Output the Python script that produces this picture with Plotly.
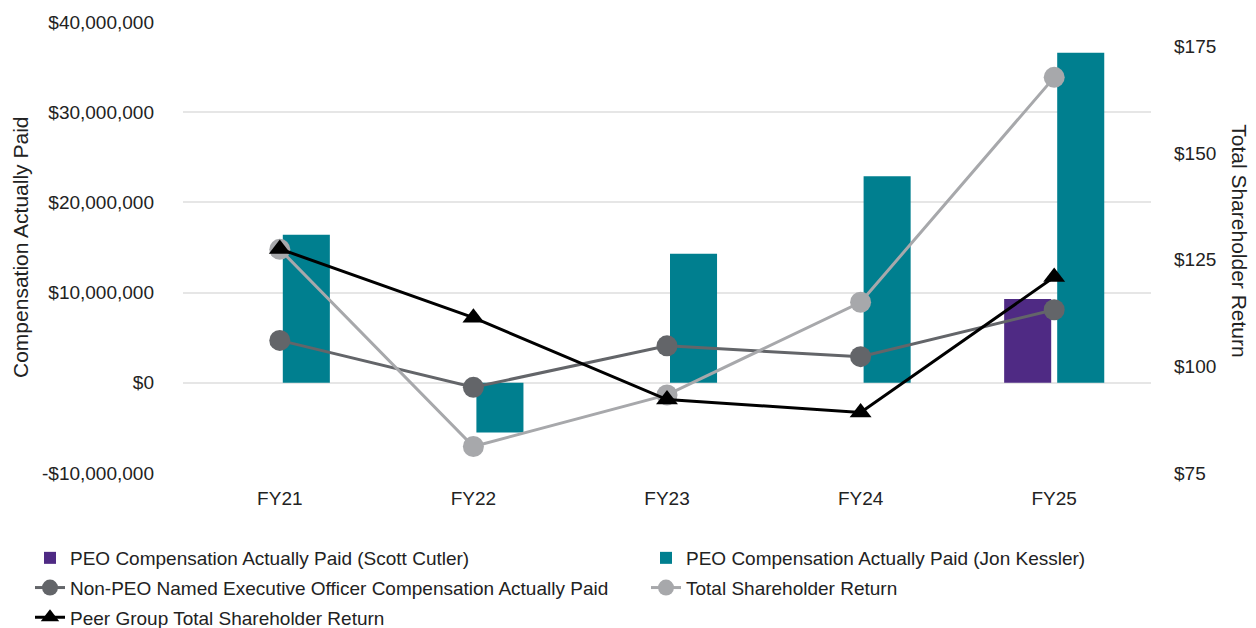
import plotly.graph_objects as go

years = ["FY21", "FY22", "FY23", "FY24", "FY25"]
cap_cutler = [None, None, None, None, 9.3e6]
cap_kessler = [16.4e6, -5.5e6, 14.3e6, 22.9e6, 36.6e6]
cap_non_peo = [4.7e6, -0.5e6, 4.1e6, 2.9e6, 8.1e6]
tsr = [127.4, 81.2, 93.3, 115.0, 167.7]
peer_tsr = [127.5, 111.4, 92.2, 89.2, 120.9]

left_tickvals = [-10e6, 0, 10e6, 20e6, 30e6, 40e6]
left_ticktext = ["-$10,000,000", "$0", "$10,000,000", "$20,000,000", "$30,000,000", "$40,000,000"]
right_tickvals = [75, 100, 125, 150, 175]
right_ticktext = ["$75", "$100", "$125", "$150", "$175"]

FONT = "Liberation Sans, Arial, sans-serif"
TXT = "#222222"
W, H = 1248, 620
ML, MR, MT, MB = 175, 105, 13.5, 155.3
PW = W - ML - MR

fig = go.Figure()
fig.add_trace(go.Bar(x=years, y=cap_cutler, name="PEO Compensation Actually Paid (Scott Cutler)",
                     marker=dict(color="#4f2a84", line=dict(width=0)), yaxis="y",
                     legend="legend", legendgroup="g1"))
fig.add_trace(go.Bar(x=years, y=cap_kessler, name="PEO Compensation Actually Paid (Jon Kessler)",
                     marker=dict(color="#007f8f", line=dict(width=0)), yaxis="y",
                     legend="legend2", legendgroup="g2"))
fig.add_trace(go.Scatter(x=years, y=cap_non_peo, name="Non-PEO Named Executive Officer Compensation Actually Paid",
                         mode="lines+markers", line=dict(color="#636569", width=3),
                         marker=dict(symbol="circle", size=21, color="#636569"), yaxis="y",
                         legend="legend", legendgroup="g3"))
fig.add_trace(go.Scatter(x=years, y=tsr, name="Total Shareholder Return",
                         mode="lines+markers", line=dict(color="#a7a8ab", width=3),
                         marker=dict(symbol="circle", size=21, color="#a7a8ab"), yaxis="y2",
                         legend="legend2", legendgroup="g4"))
fig.add_trace(go.Scatter(x=years, y=peer_tsr, name="Peer Group Total Shareholder Return",
                         mode="lines+markers", line=dict(color="#000000", width=3),
                         marker=dict(symbol="triangle-up", size=19, color="#000000"), yaxis="y2",
                         legend="legend", legendgroup="g5"))

legend_common = dict(orientation="v", xref="paper", yref="container",
                     xanchor="left", yanchor="top", traceorder="grouped", tracegroupgap=2,
                     font=dict(family=FONT, size=19, color=TXT), bgcolor="rgba(0,0,0,0)")

fig.update_layout(
    width=W, height=H,
    margin=dict(l=ML, r=MR, t=MT, b=MB, autoexpand=False),
    paper_bgcolor="white", plot_bgcolor="white",
    font=dict(family=FONT, size=19, color=TXT),
    barmode="group", bargap=0.452, bargroupgap=0.113,
    showlegend=True,
    legend=dict(x=(22 - ML) / PW, y=1 - 531 / H, **legend_common),
    legend2=dict(x=(638 - ML) / PW, y=1 - 531 / H, **legend_common),
    xaxis=dict(type="category", range=[-0.5, 4.5], showgrid=False, zeroline=False, showline=False,
               automargin=False, ticks="", ticklabelstandoff=12, tickfont=dict(size=19, color=TXT)),
    yaxis=dict(range=[-10e6, 40e6], tickvals=left_tickvals, ticktext=left_ticktext,
               showgrid=True, gridcolor="#e6e6e6", gridwidth=1.5, zeroline=False, showline=False,
               automargin=False, ticks="", ticklabelstandoff=28, tickfont=dict(size=19, color=TXT)),
    yaxis2=dict(range=[75, 180.67], tickvals=right_tickvals, ticktext=right_ticktext,
                overlaying="y", side="right", showgrid=False, zeroline=False, showline=False,
                automargin=False, ticks="", ticklabelstandoff=22, tickfont=dict(size=19, color=TXT)),
    annotations=[
        dict(text="Compensation Actually Paid", xref="paper", yref="paper", x=(12.5 - ML) / PW, y=0.5,
             textangle=-90, showarrow=False, font=dict(family=FONT, size=21, color=TXT),
             xanchor="center", yanchor="middle"),
        dict(text="Total Shareholder Return", xref="paper", yref="paper", x=1.092, y=0.516,
             textangle=90, showarrow=False, font=dict(family=FONT, size=21, color=TXT),
             xanchor="center", yanchor="middle"),
    ],
)

fig.write_html("out.html")
